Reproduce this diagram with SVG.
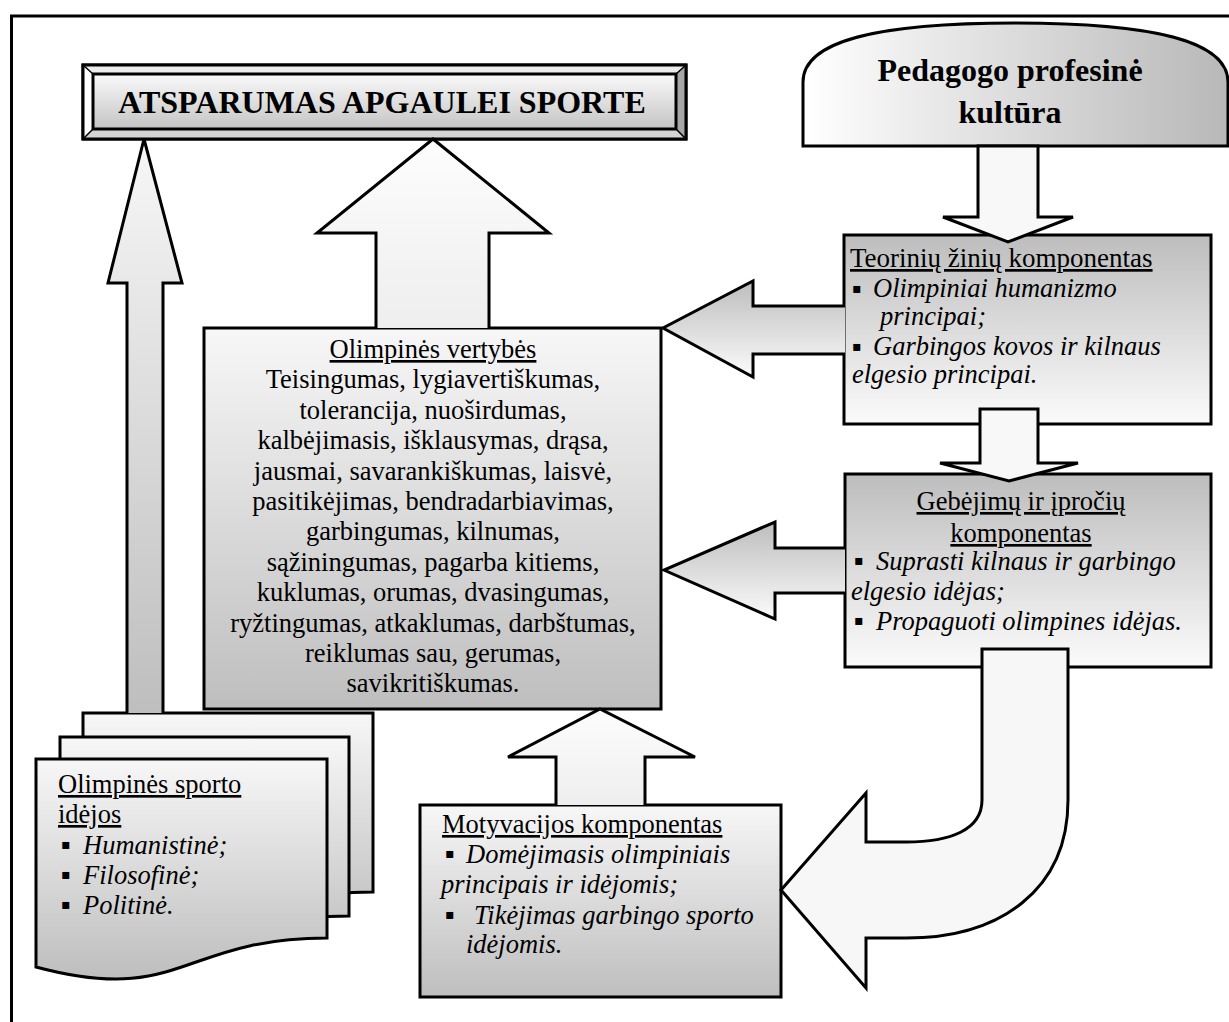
<svg xmlns="http://www.w3.org/2000/svg" width="1229" height="1022" viewBox="0 0 1229 1022">
<defs>
  <linearGradient id="gDown" x1="0" y1="0" x2="0" y2="1">
    <stop offset="0" stop-color="#bdbdbd"/>
    <stop offset="1" stop-color="#fbfbfb"/>
  </linearGradient>
  <linearGradient id="gUp" x1="0" y1="0" x2="0" y2="1">
    <stop offset="0" stop-color="#f7f7f7"/>
    <stop offset="1" stop-color="#bebebe"/>
  </linearGradient>
  <linearGradient id="gHoriz" x1="0" y1="0" x2="1" y2="0">
    <stop offset="0" stop-color="#ffffff"/>
    <stop offset="1" stop-color="#b8b8b8"/>
  </linearGradient>
  <linearGradient id="gLight" x1="0" y1="0" x2="0" y2="1">
    <stop offset="0" stop-color="#fdfdfd"/>
    <stop offset="1" stop-color="#eeeeee"/>
  </linearGradient>
  <linearGradient id="gFace" x1="0" y1="0" x2="0" y2="1">
    <stop offset="0" stop-color="#fafafa"/>
    <stop offset="1" stop-color="#c4c4c4"/>
  </linearGradient>
  <style>
    .box { stroke:#000; stroke-width:3; stroke-linejoin:miter; }
    .arr { stroke:#000; stroke-width:3; stroke-linejoin:miter; }
    text { font-family:'Liberation Serif','Times New Roman',serif; font-size:26.5px; fill:#000; }
    .i { font-style:italic; }
    .u { text-decoration:underline; }
    .b { font-weight:bold; font-size:32px; }
    .bl { font-size:28px; font-style:normal; }
    .c { text-anchor:middle; }
  </style>
</defs>

<rect x="11.5" y="16" width="1240" height="1030" fill="#fff" stroke="#000" stroke-width="3"/>

<g id="title">
  <rect x="83" y="65" width="603" height="74" fill="#e6e6e6" stroke="#000" stroke-width="3"/>
  <polygon points="83,65 93,74 93,129 83,139" fill="#ffffff"/>
  <polygon points="83,65 686,65 676,74 93,74" fill="#ececec"/>
  <polygon points="686,65 686,139 676,129 676,74" fill="#a6a6a6"/>
  <polygon points="83,139 93,129 676,129 686,139" fill="#d4d4d4"/>
  <rect x="93" y="74" width="583" height="55" fill="url(#gFace)" stroke="#000" stroke-width="3"/>
  <path d="M83,65 L93,74 M686,65 L676,74 M83,139 L93,129 M686,139 L676,129" stroke="#000" stroke-width="1.5"/>
  <rect x="83" y="65" width="603" height="74" fill="none" stroke="#000" stroke-width="3"/>
  <text class="b c" x="382" y="113">ATSPARUMAS APGAULEI SPORTE</text>
</g>

<g id="pedagogo">
  <path class="box" d="M803,146 V82 C803,40 880,23 1015,23 C1150,23 1228,40 1228,82 V146 Z" fill="url(#gHoriz)"/>
  <text class="b c" x="1010" y="81">Pedagogo profesinė</text>
  <text class="b c" x="1010" y="123">kultūra</text>
</g>

<g id="teoriniu">
  <rect class="box" x="844" y="235" width="367" height="189" fill="url(#gDown)"/>
  <text class="u" x="850" y="267" style="font-size:27px">Teorinių žinių komponentas</text>
  <text class="bl" x="852" y="298">▪</text>
  <text class="i" x="873" y="297">Olimpiniai humanizmo</text>
  <text class="i" x="880" y="325">principai;</text>
  <text class="bl" x="852" y="356">▪</text>
  <text class="i" x="873" y="355">Garbingos kovos ir kilnaus</text>
  <text class="i" x="852" y="383">elgesio principai.</text>
</g>

<g id="gebejimu">
  <rect class="box" x="845" y="474" width="366" height="193" fill="url(#gDown)"/>
  <text class="u c" x="1021" y="510">Gebėjimų ir įpročių</text>
  <text class="u c" x="1021" y="542">komponentas</text>
  <text class="bl" x="854" y="570">▪</text>
  <text class="i" x="876" y="570">Suprasti kilnaus ir garbingo</text>
  <text class="i" x="851" y="600">elgesio idėjas;</text>
  <text class="bl" x="854" y="630">▪</text>
  <text class="i" x="876" y="630">Propaguoti olimpines idėjas.</text>
</g>

<g id="vertybes">
  <rect class="box" x="204" y="328" width="457" height="381" fill="url(#gUp)"/>
  <text class="u c" x="433" y="358">Olimpinės vertybės</text>
  <text class="c" x="433" y="388.4">Teisingumas, lygiavertiškumas,</text>
  <text class="c" x="433" y="418.8">tolerancija, nuoširdumas,</text>
  <text class="c" x="433" y="449.2">kalbėjimasis, išklausymas, drąsa,</text>
  <text class="c" x="433" y="479.6">jausmai, savarankiškumas, laisvė,</text>
  <text class="c" x="433" y="510">pasitikėjimas, bendradarbiavimas,</text>
  <text class="c" x="433" y="540.4">garbingumas, kilnumas,</text>
  <text class="c" x="433" y="570.8">sąžiningumas, pagarba kitiems,</text>
  <text class="c" x="433" y="601.2">kuklumas, orumas, dvasingumas,</text>
  <text class="c" x="433" y="631.6">ryžtingumas, atkaklumas, darbštumas,</text>
  <text class="c" x="433" y="662">reiklumas sau, gerumas,</text>
  <text class="c" x="433" y="692.4">savikritiškumas.</text>
</g>

<g id="motyvacijos">
  <rect class="box" x="420" y="805" width="361" height="192" fill="url(#gUp)"/>
  <text class="u" x="442" y="833">Motyvacijos komponentas</text>
  <text class="bl" x="445" y="863">▪</text>
  <text class="i" x="466" y="863">Domėjimasis olimpiniais</text>
  <text class="i" x="441" y="893">principais ir idėjomis;</text>
  <text class="bl" x="445" y="924">▪</text>
  <text class="i" x="474" y="924">Tikėjimas garbingo sporto</text>
  <text class="i" x="466" y="953">idėjomis.</text>
</g>

<g id="idejos">
  <path class="box" d="M83,713 H373 V892 C228,892 228,960 83,921 Z" fill="url(#gUp)"/>
  <path class="box" d="M60,737 H349 V916 C204.5,916 204.5,984 60,945 Z" fill="url(#gUp)"/>
  <path class="box" d="M36,759 H327 V938 C181.5,938 181.5,1006 36,967 Z" fill="url(#gUp)"/>
  <text class="u" x="58" y="793">Olimpinės sporto</text>
  <text class="u" x="58" y="823">idėjos</text>
  <text class="bl" x="61" y="854">▪</text>
  <text class="i" x="83" y="854">Humanistinė;</text>
  <text class="bl" x="61" y="884">▪</text>
  <text class="i" x="83" y="884">Filosofinė;</text>
  <text class="bl" x="61" y="914">▪</text>
  <text class="i" x="83" y="914">Politinė.</text>
</g>

<g id="connectors">
  <path class="arr" d="M978,146 H1038 V217 H1073 L1008,242 L943,217 H978 Z" fill="#f8f8f8"/>
  <path class="arr" d="M980,409 H1038 V463 H1078 L1009,481 L940,463 H980 Z" fill="#f8f8f8"/>
  <path class="arr" d="M845,306 H753 V281 L663,328 L753,377 V354 H845" fill="url(#gDown)"/>
  <path class="arr" d="M845,548 H775 V522 L664,570 L775,619 V593 H845" fill="url(#gDown)"/>
  <path class="arr" d="M376,328 V233 H317 L433,139 L549,233 H489 V328" fill="url(#gLight)"/>
  <path class="arr" d="M127,713 V283 H108 L144,139 L182,283 H163 V713" fill="url(#gUp)"/>
  <path class="arr" d="M556,805 V757 H508 L600,709 L695,757 H645 V805" fill="url(#gLight)"/>
  <path class="arr" d="M982,649 H1068 V800 C1068,890 1000,938 906,938 H866 V988 L781,890 L866,793 V842 H906 C950,842 982,830 982,800 Z" fill="#f7f7f7"/>
</g>
</svg>
